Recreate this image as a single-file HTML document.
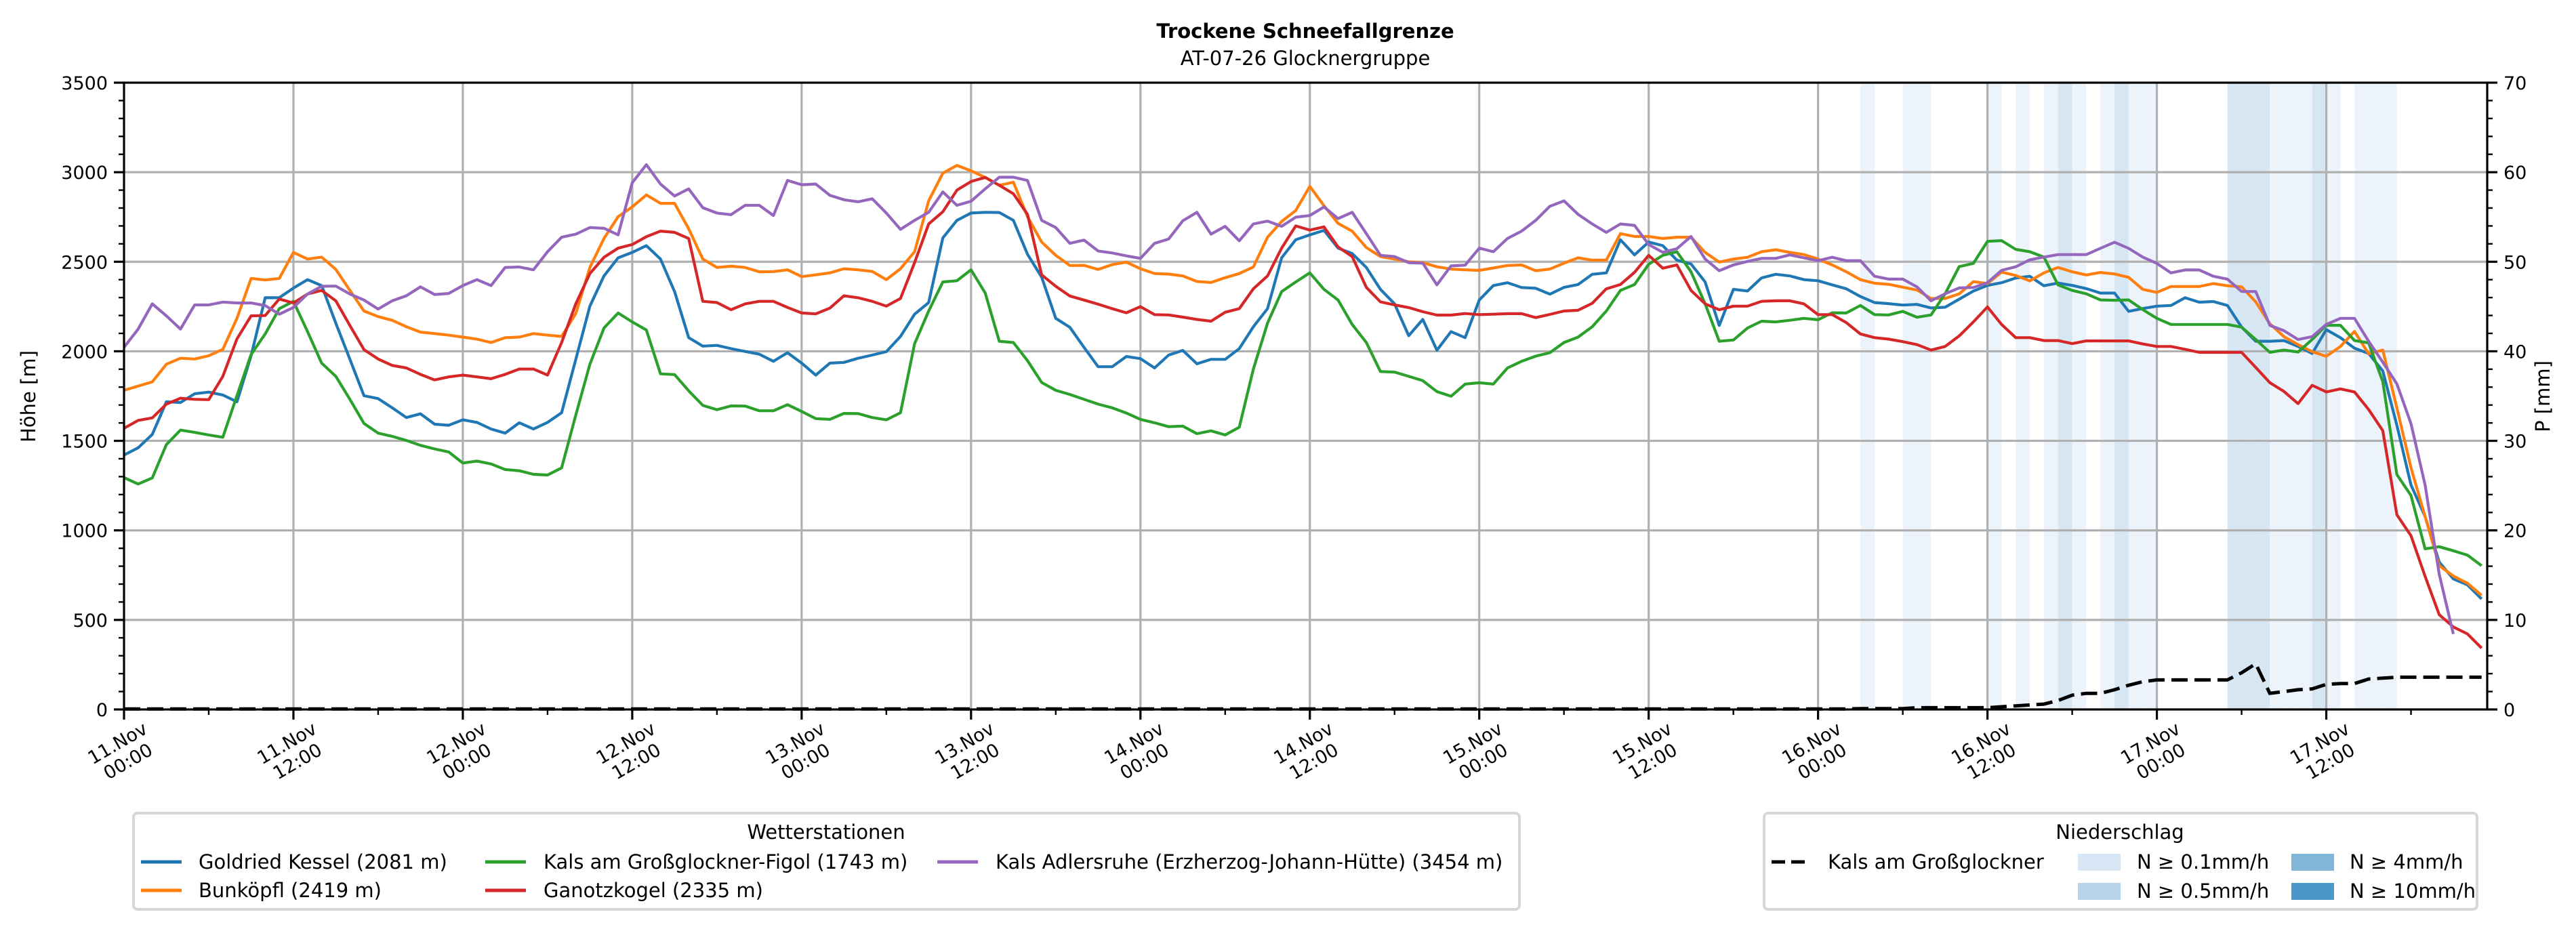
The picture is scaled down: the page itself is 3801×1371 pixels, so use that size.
<!DOCTYPE html>
<html><head><meta charset="utf-8"><style>
html,body{margin:0;padding:0;background:#fff;}
svg{display:block;font-family:"DejaVu Sans","Liberation Sans",sans-serif;}
</style></head>
<body>
<svg id="chart" width="3801" height="1371" viewBox="0 0 3801 1371" xmlns="http://www.w3.org/2000/svg">
<text x="1926" y="56" text-anchor="middle" font-size="29" font-weight="bold">Trockene Schneefallgrenze</text>
<text x="1926" y="96" text-anchor="middle" font-size="29">AT-07-26 Glocknergruppe</text>
<g id="bands"></g>
<g id="grid"></g>
<g id="series"></g>
<g id="axes"></g>
<text transform="translate(52,585) rotate(-90)" text-anchor="middle" font-size="29">Höhe [m]</text>
<text transform="translate(3762,585) rotate(-90)" text-anchor="middle" font-size="29">P [mm]</text>

<g>
<rect x="197" y="1200" width="2045" height="142" rx="6" fill="#fff" stroke="#d6d6d6" stroke-width="4"/>
<text x="1219" y="1238" text-anchor="middle" font-size="29">Wetterstationen</text>
<g><line x1="208" y1="1272" x2="268" y2="1272" stroke="#1f77b4" stroke-width="5"/><text x="293" y="1282" font-size="29">Goldried Kessel (2081 m)</text></g>
<g><line x1="208" y1="1314" x2="268" y2="1314" stroke="#ff7f0e" stroke-width="5"/><text x="293" y="1324" font-size="29">Bunköpfl (2419 m)</text></g>
<g><line x1="716" y1="1272" x2="776" y2="1272" stroke="#2ca02c" stroke-width="5"/><text x="802" y="1282" font-size="29">Kals am Großglockner-Figol (1743 m)</text></g>
<g><line x1="716" y1="1314" x2="776" y2="1314" stroke="#d62728" stroke-width="5"/><text x="802" y="1324" font-size="29">Ganotzkogel (2335 m)</text></g>
<g><line x1="1383" y1="1272" x2="1443" y2="1272" stroke="#9467bd" stroke-width="5"/><text x="1469" y="1282" font-size="29">Kals Adlersruhe (Erzherzog-Johann-Hütte) (3454 m)</text></g>
</g>

<g>
<rect x="2603" y="1200" width="1052" height="142" rx="6" fill="#fff" stroke="#d6d6d6" stroke-width="4"/>
<text x="3128" y="1238" text-anchor="middle" font-size="29">Niederschlag</text>
<g><line x1="2614" y1="1272" x2="2672" y2="1272" stroke="#000" stroke-width="5" stroke-dasharray="20,9"/><text x="2697" y="1282" font-size="29">Kals am Großglockner</text></g>
<g><rect x="3066" y="1260" width="63" height="25" fill="#d8e7f5"/><text x="3153" y="1282" font-size="29">N ≥ 0.1mm/h</text></g>
<g><rect x="3066" y="1303" width="63" height="25" fill="#b8d4ea"/><text x="3153" y="1325" font-size="29">N ≥ 0.5mm/h</text></g>
<g><rect x="3381" y="1260" width="63" height="25" fill="#7fb6da"/><text x="3467" y="1282" font-size="29">N ≥ 4mm/h</text></g>
<g><rect x="3381" y="1303" width="63" height="25" fill="#4a97c9"/><text x="3467" y="1325" font-size="29">N ≥ 10mm/h</text></g>
</g>
</svg>
<script>
const goldried = [1421,1461,1536,1718,1714,1763,1772,1756,1718,1975,2299,2299,2353,2400,2367,2157,1955,1752,1736,1684,1630,1651,1593,1587,1617,1603,1566,1543,1601,1566,1603,1657,1955,2252,2421,2522,2552,2590,2515,2333,2076,2029,
2033,2015,1999,1984,1944,1992,1934,1867,1934,1938,1961,1979,1998,2083,2207,2272,2633,2731,2772,2776,2775,2731,2542,2414,2184,2134,2022,1914,1914,1971,1959,1907,1979,2005,1930,1955,1955,2015,2137,2238,2522,2623,
2650,2675,2576,2546,2468,2346,2265,2087,2178,2006,2110,2076,2286,2367,2383,2356,2352,2319,2357,2373,2430,2438,2623,2538,2610,2590,2509,2488,2387,2144,2346,2337,2410,2430,2421,2400,2394,2371,2349,2306,2272,
2266,2258,2262,2242,2246,2291,2336,2368,2383,2409,2419,2366,2381,2368,2350,2325,2325,2223,2239,2252,2256,2299,2274,2278,2256,2135,2056,2056,2060,2027,1988,2121,2076,2017,1988,1890,1587,1254,1078,823,729,696,617];
const bunkoepfl = [1782,1806,1829,1928,1961,1957,1975,2011,2184,2407,2398,2407,2552,2515,2526,2457,2340,2225,2194,2173,2137,2107,2099,2090,2079,2068,2049,2076,2079,2099,2090,2083,2211,2468,2630,2752,2806,2873,2826,2826,2684,2515,
2468,2475,2468,2444,2445,2455,2417,2427,2438,2461,2455,2446,2400,2461,2556,2840,2995,3038,3008,2971,2927,2944,2752,2610,2536,2479,2480,2457,2484,2498,2461,2434,2431,2421,2390,2384,2411,2434,2471,2637,2725,2786,
2921,2813,2714,2671,2579,2529,2515,2500,2495,2472,2459,2455,2452,2465,2479,2482,2450,2459,2492,2522,2509,2509,2657,2641,2641,2630,2637,2637,2552,2498,2515,2525,2556,2567,2552,2540,2515,2482,2444,2400,2380,
2374,2358,2342,2295,2295,2321,2389,2378,2442,2423,2393,2438,2468,2444,2426,2440,2432,2413,2346,2329,2362,2362,2362,2378,2366,2360,2276,2154,2082,2037,1998,1972,2027,2111,1986,2007,1684,1350,1078,803,745,705,637];
const figol = [1295,1259,1293,1479,1560,1547,1533,1520,1752,1982,2097,2238,2279,2110,1934,1860,1732,1597,1543,1525,1502,1475,1455,1438,1376,1387,1371,1340,1333,1313,1309,1349,1644,1928,2130,2214,2164,2119,1874,1870,1779,1698,
1674,1695,1694,1668,1668,1702,1664,1624,1620,1653,1652,1630,1617,1657,2042,2225,2387,2394,2455,2326,2056,2049,1948,1826,1782,1759,1732,1705,1684,1655,1620,1601,1579,1582,1540,1556,1533,1576,1901,2157,2333,2387,
2438,2346,2286,2150,2049,1887,1884,1860,1836,1775,1749,1817,1824,1817,1907,1944,1973,1992,2049,2079,2137,2225,2340,2373,2486,2536,2556,2444,2265,2056,2063,2130,2168,2164,2173,2184,2176,2215,2214,2256,2205,
2203,2223,2190,2203,2321,2473,2491,2614,2618,2569,2556,2526,2370,2340,2321,2287,2285,2287,2233,2184,2150,2150,2150,2150,2150,2135,2066,1994,2007,1996,2066,2145,2145,2060,2047,1831,1312,1195,897,909,886,862,803];
const ganotz = [1570,1614,1628,1705,1738,1732,1730,1860,2069,2198,2200,2292,2270,2320,2340,2282,2144,2009,1957,1921,1907,1871,1840,1857,1867,1857,1847,1871,1901,1901,1867,2049,2265,2434,2525,2576,2596,2640,2671,2664,2630,2279,
2272,2232,2265,2279,2279,2245,2214,2209,2241,2310,2299,2279,2252,2295,2495,2711,2779,2900,2948,2971,2927,2880,2765,2427,2363,2309,2286,2263,2238,2215,2249,2205,2203,2191,2178,2168,2218,2238,2349,2421,2576,2700,
2677,2695,2583,2529,2357,2276,2259,2244,2221,2202,2202,2211,2205,2207,2210,2210,2188,2206,2225,2229,2268,2349,2373,2441,2536,2464,2482,2340,2265,2232,2252,2252,2279,2282,2282,2265,2205,2205,2160,2097,2076,
2068,2054,2037,2007,2027,2086,2164,2248,2150,2076,2076,2060,2060,2043,2058,2058,2058,2058,2041,2027,2027,2011,1994,1994,1994,1994,1910,1825,1776,1708,1810,1773,1790,1773,1675,1557,1087,970,744,529,461,422,343];
const adlersruhe = [2022,2124,2265,2198,2124,2259,2259,2275,2270,2270,2255,2207,2245,2320,2363,2364,2320,2286,2236,2282,2310,2360,2317,2323,2367,2400,2367,2468,2471,2455,2556,2637,2654,2691,2687,2650,2941,3042,2934,2867,2907,2802,
2772,2763,2815,2815,2758,2954,2930,2934,2871,2846,2835,2852,2772,2681,2731,2776,2890,2815,2838,2907,2972,2972,2954,2731,2691,2603,2621,2560,2549,2533,2519,2603,2627,2729,2776,2654,2698,2617,2711,2727,2698,2749,
2758,2806,2741,2776,2657,2536,2529,2495,2492,2371,2477,2481,2576,2556,2630,2671,2731,2810,2840,2765,2711,2664,2711,2703,2596,2553,2573,2641,2515,2450,2482,2502,2519,2519,2538,2522,2506,2525,2506,2506,2419,
2403,2403,2360,2282,2321,2354,2356,2383,2452,2472,2511,2526,2540,2540,2540,2575,2609,2575,2526,2491,2438,2454,2454,2419,2403,2334,2334,2145,2115,2066,2082,2150,2184,2184,2056,1939,1818,1596,1254,755,421,null,null];
const precipLate = [0.1,0.1,0.1,0.1,0.2,0.2,0.2,0.2,0.2,0.2,0.3,0.4,0.5,0.6,1.0,1.6,1.8,1.8,2.2,2.7,3.1,3.3,3.3,3.3,3.3,3.3,3.3,4.1,5.1,1.8,2.0,2.2,2.3,2.8,2.9,2.9,3.4,3.5,3.6,3.6,3.6,3.6,3.6,3.6,3.6];
const rainHours = [123,126,127,132,134,136,137,138,140,141,142,143,149,150,151,152,153,154,155,156,158,159,160];
const rainLevels = [1,1,1,1,1,1,2,1,1,2,1,1,2,2,2,1,1,1,2,1,1,1,1];
const yTicks = [0,500,1000,1500,2000,2500,3000,3500];
const y2Ticks = [0,10,20,30,40,50,60,70];
const xTickDays = ["11.Nov","11.Nov","12.Nov","12.Nov","13.Nov","13.Nov","14.Nov","14.Nov","15.Nov","15.Nov","16.Nov","16.Nov","17.Nov","17.Nov"];
const xTickTimes = ["00:00","12:00","00:00","12:00","00:00","12:00","00:00","12:00","00:00","12:00","00:00","12:00","00:00","12:00"];

const precipSum = [];
for (let i = 0; i < 123; i++) precipSum.push(0.05);
for (const v of precipLate) precipSum.push(v);

const NS = "http://www.w3.org/2000/svg";
const L = 183, R = 3670, T = 122, B = 1047;
const HMAX = 167.4;
const xs = h => L + h * (R - L) / HMAX;
const ys = v => B - v * (B - T) / 3500;
const ys2 = v => B - v * (B - T) / 70;
function mk(tag, attrs, parent) {
  const e = document.createElementNS(NS, tag);
  for (const k in attrs) e.setAttribute(k, attrs[k]);
  parent.appendChild(e);
  return e;
}
const bands = document.getElementById('bands');
const grid = document.getElementById('grid');
const series = document.getElementById('series');
const axes = document.getElementById('axes');

rainHours.forEach((h, i) => {
  const r = mk('rect', {x: xs(h), y: T, width: xs(h + 1) - xs(h), height: B - T, fill: rainLevels[i] === 2 ? '#d7e6f3' : '#edf3fb'}, bands);
  
  
});

yTicks.forEach(v => {
  if (v === 0 || v === 3500) return;
  const g = mk('line', {x1: L, x2: R, y1: ys(v), y2: ys(v), stroke: '#b0b0b0', 'stroke-width': 3.2}, grid);
  
  
});
xTickDays.forEach((d, i) => {
  if (i === 0) return;
  const g = mk('line', {x1: xs(i * 12), x2: xs(i * 12), y1: T, y2: B, stroke: '#b0b0b0', 'stroke-width': 3.2}, grid);
  
  
});

const defs = [[goldried,'#1f77b4','line-goldried-kessel'],[bunkoepfl,'#ff7f0e','line-bunkoepfl'],[figol,'#2ca02c','line-kals-figol'],[ganotz,'#d62728','line-ganotzkogel'],[adlersruhe,'#9467bd','line-adlersruhe']];
defs.forEach(([arr, col, name]) => {
  let d = '';
  arr.forEach((v, h) => { if (v === null) return; d += (d ? 'L' : 'M') + xs(h).toFixed(1) + ',' + ys(v).toFixed(1); });
  const p = mk('path', {d: d, fill: 'none', stroke: col, 'stroke-width': 4.2, 'stroke-linejoin': 'round'}, series);
  
  
});
{
  let d = '';
  precipSum.forEach((v, h) => { d += (h ? 'L' : 'M') + xs(h).toFixed(1) + ',' + ys2(v).toFixed(1); });
  const p = mk('path', {d: d, fill: 'none', stroke: '#000', 'stroke-width': 5, 'stroke-dasharray': '24,10'}, series);
  
  
}

const frame = mk('rect', {x: L, y: T, width: R - L, height: B - T, fill: 'none', stroke: '#000', 'stroke-width': 3.2}, axes);



for (let v = 0; v <= 3500; v += 100) {
  const major = v % 500 === 0;
  const t = mk('line', {x1: L - (major ? 15 : 8), x2: L, y1: ys(v), y2: ys(v), stroke: '#000', 'stroke-width': major ? 3.2 : 2.4}, axes);
  
  
}
yTicks.forEach(v => {
  const t = mk('text', {x: L - 24, y: ys(v) + 10, 'text-anchor': 'end', 'font-size': 27}, axes);
  t.textContent = v;
  
  
});
for (let v = 0; v <= 70; v += 2) {
  const major = v % 10 === 0;
  const t = mk('line', {x1: R, x2: R + (major ? 15 : 8), y1: ys2(v), y2: ys2(v), stroke: '#000', 'stroke-width': major ? 3.2 : 2.4}, axes);
  
  
}
y2Ticks.forEach(v => {
  const t = mk('text', {x: R + 24, y: ys2(v) + 10, 'text-anchor': 'start', 'font-size': 27}, axes);
  t.textContent = v;
  
  
});
for (let h = 0; h <= 166; h += 6) {
  const major = h % 12 === 0;
  const t = mk('line', {x1: xs(h), x2: xs(h), y1: B, y2: B + (major ? 15 : 8), stroke: '#000', 'stroke-width': major ? 3.2 : 2.4}, axes);
  
  
}
xTickDays.forEach((d, i) => {
  const cx = xs(i * 12) - 2, cy = 1110;
  const t = mk('text', {transform: `translate(${cx},${cy}) rotate(-30)`, 'text-anchor': 'middle', 'font-size': 27}, axes);
  
  
  const a = mk('tspan', {x: 0, y: -6}, t); a.textContent = d;
  const b = mk('tspan', {x: 0, y: 25}, t); b.textContent = xTickTimes[i];
});
</script>
</body></html>
